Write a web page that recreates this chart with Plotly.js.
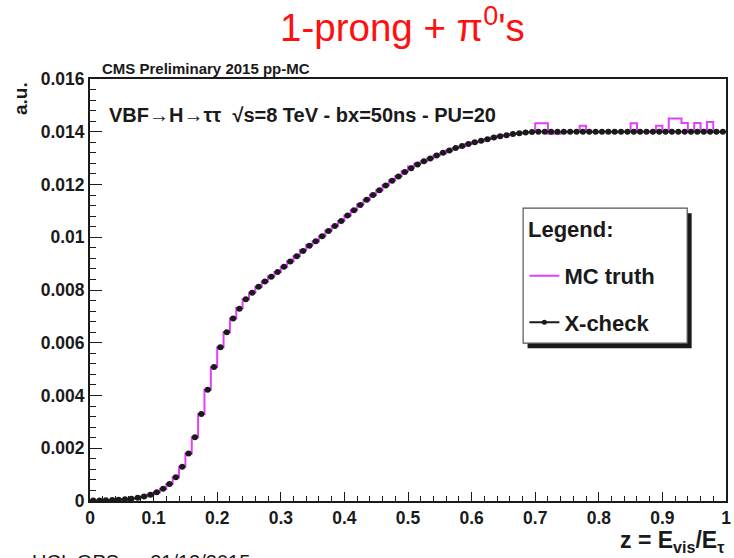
<!DOCTYPE html>
<html>
<head>
<meta charset="utf-8">
<script src="https://cdn.plot.ly/plotly-3.0.1.min.js"></script>
<style>html,body{margin:0;padding:0;background:#fff;}#chart{width:734px;height:558px;}</style>
</head>
<body>
<div id="chart"></div>
<script>
// Bin centres (100 bins of width 0.01 on z in [0,1])
const binCenters = [
0.005,0.015,0.025,0.035,0.045,0.055,0.065,0.075,0.085,0.095,
0.105,0.115,0.125,0.135,0.145,0.155,0.165,0.175,0.185,0.195,
0.205,0.215,0.225,0.235,0.245,0.255,0.265,0.275,0.285,0.295,
0.305,0.315,0.325,0.335,0.345,0.355,0.365,0.375,0.385,0.395,
0.405,0.415,0.425,0.435,0.445,0.455,0.465,0.475,0.485,0.495,
0.505,0.515,0.525,0.535,0.545,0.555,0.565,0.575,0.585,0.595,
0.605,0.615,0.625,0.635,0.645,0.655,0.665,0.675,0.685,0.695,
0.705,0.715,0.725,0.735,0.745,0.755,0.765,0.775,0.785,0.795,
0.805,0.815,0.825,0.835,0.845,0.855,0.865,0.875,0.885,0.895,
0.905,0.915,0.925,0.935,0.945,0.955,0.965,0.975,0.985,0.995];
const binHalfWidth = 0.005;

// X-check (black points)
const xcheck = [
0.00002,0.00002,0.00003,0.00004,0.00005,0.00007,0.00009,0.00012,0.00017,0.00024,
0.00033,0.00046,0.00064,0.00090,0.00130,0.00180,0.00242,0.00330,0.00422,0.00508,
0.00583,0.00640,0.00692,0.00729,0.00765,0.00790,0.00812,0.00832,0.00850,0.00868,
0.00888,0.00908,0.00928,0.00948,0.00968,0.00985,0.01004,0.01024,0.01043,0.01062,
0.01082,0.01102,0.01122,0.01142,0.01160,0.01178,0.01196,0.01214,0.01230,0.01247,
0.01262,0.01276,0.01288,0.01299,0.01310,0.01320,0.01329,0.01338,0.01346,0.01354,
0.01360,0.01366,0.01372,0.01378,0.01383,0.01387,0.01391,0.01394,0.01397,0.01399,
0.01400,0.01400,0.01400,0.01400,0.01400,0.01400,0.01400,0.01400,0.01400,0.01400,
0.01400,0.01400,0.01400,0.01400,0.01400,0.01400,0.01400,0.01400,0.01400,0.01400,
0.01400,0.01400,0.01400,0.01400,0.01400,0.01400,0.01400,0.01400,0.01400,0.01400];

// MC truth (magenta histogram)
const mcTruth = [
0.00002,0.00002,0.00003,0.00004,0.00005,0.00007,0.00009,0.00012,0.00017,0.00024,
0.00033,0.00046,0.00064,0.00090,0.00130,0.00180,0.00242,0.00330,0.00422,0.00508,
0.00583,0.00640,0.00692,0.00732,0.00765,0.00790,0.00812,0.00832,0.00852,0.00868,
0.00888,0.00910,0.00928,0.00952,0.00972,0.00985,0.01004,0.01026,0.01043,0.01062,
0.01082,0.01102,0.01125,0.01142,0.01160,0.01178,0.01198,0.01216,0.01232,0.01250,
0.01268,0.01280,0.01288,0.01299,0.01310,0.01318,0.01329,0.01338,0.01344,0.01354,
0.01360,0.01364,0.01372,0.01378,0.01385,0.01387,0.01391,0.01394,0.01397,0.01399,
0.01432,0.01432,0.01392,0.01392,0.01398,0.01400,0.01400,0.01423,0.01400,0.01398,
0.01400,0.01400,0.01398,0.01400,0.01400,0.01432,0.01400,0.01400,0.01400,0.01423,
0.01400,0.01450,0.01450,0.01433,0.01402,0.01433,0.01402,0.01437,0.01400,0.01400];

const xTickVals = [0,0.1,0.2,0.3,0.4,0.5,0.6,0.7,0.8,0.9,1];
const xTickText = ["0","0.1","0.2","0.3","0.4","0.5","0.6","0.7","0.8","0.9","1"];
const yTickVals = [0,0.002,0.004,0.006,0.008,0.01,0.012,0.014,0.016];
const yTickText = ["0","0.002","0.004","0.006","0.008","0.01","0.012","0.014","0.016"];

const magenta = "#e040fb";
const ink = "#1a1a1a";
const fam = "Liberation Sans, Arial, sans-serif";

// histogram outline: extend first and last bins to their edges
const mcX = [binCenters[0]-binHalfWidth].concat(binCenters, [binCenters[binCenters.length-1]+binHalfWidth]);
const mcY = [mcTruth[0]].concat(mcTruth, [mcTruth[mcTruth.length-1]]);

const traces = [
  {x: mcX, y: mcY, type: "scatter", mode: "lines", name: "MC truth", legendgroup: "a",
   line: {color: magenta, width: 2, shape: "hvh"}, showlegend: true, hoverinfo: "skip"},
  {x: binCenters, y: xcheck, type: "scatter", mode: "markers", name: "X-check",
   marker: {color: ink, size: 6, symbol: "circle"},
   error_x: {type: "constant", value: binHalfWidth, width: 0, thickness: 1.8, color: ink},
   showlegend: false, hoverinfo: "skip"},
  {x: [null], y: [null], type: "scatter", mode: "lines+markers", name: "X-check", legendgroup: "b",
   line: {color: ink, width: 2}, marker: {color: ink, size: 5}, showlegend: true}
];

const tickFont = {family: fam, size: 17.5, color: ink, weight: "bold"};

const layout = {
  width: 734, height: 558,
  margin: {l: 90, r: 8, t: 79, b: 57},
  paper_bgcolor: "#fff", plot_bgcolor: "#fff",
  showlegend: true,
  legend: {
    x: 0.683, y: 0.583, xanchor: "left", yanchor: "top",
    bgcolor: "rgba(0,0,0,0)", borderwidth: 0,
    font: {family: fam, size: 22, color: ink, weight: "bold"},
    itemwidth: 30, tracegroupgap: 15
  },
  xaxis: {
    range: [0, 1], tickmode: "array", tickvals: xTickVals, ticktext: xTickText,
    ticks: "inside", ticklen: 9, tickwidth: 1, tickcolor: ink,
    minor: {dtick: 0.02, ticks: "inside", ticklen: 5, tickcolor: ink, tickwidth: 1, showgrid: false},
    showline: true, linecolor: ink, linewidth: 2, mirror: true,
    showgrid: false, zeroline: false, tickfont: tickFont
  },
  yaxis: {
    range: [0, 0.016], tickmode: "array", tickvals: yTickVals, ticktext: yTickText,
    ticks: "inside", ticklen: 12, tickwidth: 1, tickcolor: ink,
    minor: {dtick: 0.0004, ticks: "inside", ticklen: 6, tickcolor: ink, tickwidth: 1, showgrid: false},
    showline: true, linecolor: ink, linewidth: 2, mirror: true,
    showgrid: false, zeroline: false, tickfont: tickFont
  },
  shapes: [
    {type: "rect", xref: "paper", yref: "paper", layer: "below",
     x0: 0.688, x1: 0.946, y0: 0.362, y1: 0.682, fillcolor: ink, line: {width: 0}},
    {type: "rect", xref: "paper", yref: "paper", layer: "below",
     x0: 0.681, x1: 0.939, y0: 0.374, y1: 0.694, fillcolor: "#fff", line: {color: "#555", width: 1.2}}
  ],
  annotations: [
    {text: "Legend:", xref: "paper", yref: "paper", x: 0.685, y: 0.644,
     xanchor: "left", yanchor: "middle", showarrow: false,
     font: {family: fam, size: 22, color: ink, weight: "bold"}},
    {text: "1-prong + π<sup>0</sup>'s", xref: "paper", yref: "paper", x: 0.492, y: 1.0, yshift: 54,
     xanchor: "center", yanchor: "middle", showarrow: false,
     font: {family: fam, size: 38.5, color: "#ff1010"}},
    {text: "CMS Preliminary 2015 pp-MC", xref: "paper", yref: "paper", x: 0.016, y: 1.0,
     xanchor: "left", yanchor: "bottom", yshift: 0, showarrow: false,
     font: {family: fam, size: 15, color: ink, weight: "bold"}},
    {text: "VBF→H→ττ  √s=8 TeV - bx=50ns - PU=20", xref: "paper", yref: "paper", x: 0.026, y: 0.915,
     xanchor: "left", yanchor: "middle", showarrow: false,
     font: {family: fam, size: 20, color: ink, weight: "bold"}},
    {text: "a.u.", xref: "paper", yref: "paper", x: 0, y: 1.0, xshift: -70, yshift: -20,
     xanchor: "center", yanchor: "middle", textangle: -90, showarrow: false,
     font: {family: fam, size: 19, color: ink, weight: "bold"}},
    {text: "z = E<sub>vis</sub>/E<sub>τ</sub>", xref: "paper", yref: "paper", x: 1.0, y: 0, yshift: -40,
     xanchor: "right", yanchor: "middle", showarrow: false,
     font: {family: fam, size: 23, color: ink, weight: "bold"}},
    {text: "UCL OPS — 21/12/2015", xref: "paper", yref: "paper", x: 0, y: 0, xshift: -60, yshift: -48,
     xanchor: "left", yanchor: "top", showarrow: false,
     font: {family: fam, size: 20, color: ink}}
  ]
};

Plotly.newPlot("chart", traces, layout, {displayModeBar: false, staticPlot: true});
</script>
</body>
</html>
